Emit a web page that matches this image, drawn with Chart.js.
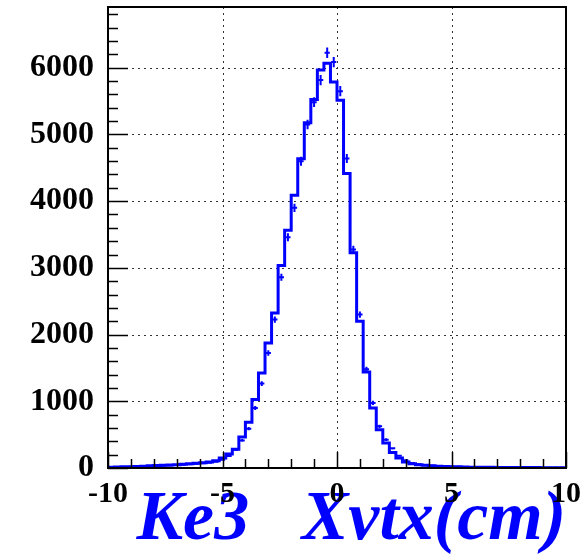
<!DOCTYPE html>
<html>
<head>
<meta charset="utf-8">
<script src="https://cdn.jsdelivr.net/npm/chart.js@4/dist/chart.umd.min.js"></script>
<style>
  html, body { margin: 0; padding: 0; background: #fff; }
  canvas { display: block; }
</style>
</head>
<body>
<canvas id="chart" width="584" height="557"></canvas>
<script>
// binning of the histogram
const xMin = -10
const xMax = 10
const nBins = 70
const yMax = 6910

// step histogram contents, one per bin (left to right)
const mcCounts = [
  12, 14, 17, 20, 24, 28, 32, 36, 40, 45,
  50, 57, 64, 72, 80, 90, 110, 150, 210, 280,
  465, 684, 1025, 1425, 1875, 2325, 3034, 3564, 4089, 4635,
  5175, 5524, 5964, 6065, 5784, 5514, 4414, 3225, 2199, 1440,
  900, 575, 375, 234, 150, 90, 65, 50, 40, 33,
  27, 23, 20, 17, 15, 13, 12, 11, 10, 9,
  8, 8, 7, 7, 6, 6, 5, 5, 5, 5
]

// data points (crosses), one per bin
const dataCounts = [
  10, 12, 14, 17, 20, 24, 27, 31, 35, 39,
  44, 50, 56, 63, 70, 80, 95, 125, 180, 275,
  414, 590, 900, 1265, 1725, 2225, 2859, 3459, 3900, 4599,
  5150, 5484, 5814, 6225, 6084, 5649, 4640, 3274, 2299, 1480,
  975, 624, 425, 295, 185, 115, 75, 55, 42, 35,
  29, 25, 21, 18, 16, 14, 12, 11, 10, 9,
  8, 8, 7, 7, 6, 6, 5, 5, 5, 4
]

const xTickLabels = [-10, -5, 0, 5, 10]
const yTickLabels = [0, 1000, 2000, 3000, 4000, 5000, 6000]
const xMajorStep = 5
const xMinorStep = 1
const yMajorStep = 1000
const yMinorStep = 200
const axisTitle = 'Ke3   Xvtx(cm)'

const serif = '"Liberation Serif", "Times New Roman", serif'
const blue = '#0000ff'

const binWidth = (xMax - xMin) / nBins

// step line goes through the left edge of every bin, plus the right edge of the last one
const stepPoints = mcCounts.map((c, i) => ({ x: xMin + i * binWidth, y: c }))
stepPoints.push({ x: xMax, y: mcCounts[nBins - 1] })

const dataPoints = dataCounts.map((c, i) => ({ x: xMin + (i + 0.5) * binWidth, y: c }))

const rootFrame = {
  id: 'rootFrame',
  beforeDatasetsDraw(chart) {
    const { ctx, chartArea: a, scales: { x, y } } = chart
    ctx.save()
    ctx.strokeStyle = '#333'
    ctx.lineWidth = 1
    ctx.setLineDash([2, 4])
    for (let v = xMin + xMajorStep; v < xMax; v += xMajorStep) {
      const px = Math.round(x.getPixelForValue(v)) + 0.5
      ctx.beginPath()
      ctx.moveTo(px, a.top)
      ctx.lineTo(px, a.bottom)
      ctx.stroke()
    }
    for (let v = yMajorStep; v < yMax; v += yMajorStep) {
      const py = Math.round(y.getPixelForValue(v)) + 0.5
      ctx.beginPath()
      ctx.moveTo(a.left, py)
      ctx.lineTo(a.right, py)
      ctx.stroke()
    }
    ctx.restore()
  },
  afterDatasetsDraw(chart) {
    const { ctx, chartArea: a, scales: { x, y } } = chart

    // error bars on the data points
    ctx.save()
    ctx.strokeStyle = blue
    ctx.lineWidth = 2
    dataPoints.forEach(p => {
      const err = Math.sqrt(p.y)
      const cx = x.getPixelForValue(p.x)
      const cy = y.getPixelForValue(p.y)
      ctx.beginPath()
      ctx.moveTo(x.getPixelForValue(p.x - binWidth * 0.4), cy)
      ctx.lineTo(x.getPixelForValue(p.x + binWidth * 0.4), cy)
      ctx.moveTo(cx, y.getPixelForValue(p.y - err))
      ctx.lineTo(cx, y.getPixelForValue(p.y + err))
      ctx.stroke()
    })
    ctx.restore()

    // inward ticks and frame, ROOT style
    ctx.save()
    ctx.strokeStyle = '#000'
    ctx.lineWidth = 1.5
    ctx.beginPath()
    for (let v = xMin; v <= xMax + 1e-9; v += xMinorStep) {
      const px = Math.round(x.getPixelForValue(v)) + 0.5
      const len = (Math.round(v) % xMajorStep === 0) ? 16 : 9
      ctx.moveTo(px, a.bottom)
      ctx.lineTo(px, a.bottom - len)
    }
    for (let v = 0; v < yMax; v += yMinorStep) {
      const py = Math.round(y.getPixelForValue(v)) + 0.5
      const len = (v % yMajorStep === 0) ? 20 : 10
      ctx.moveTo(a.left, py)
      ctx.lineTo(a.left + len, py)
    }
    ctx.stroke()
    ctx.lineWidth = 2
    ctx.strokeRect(a.left, a.top, a.right - a.left, a.bottom - a.top)
    ctx.restore()
  }
}

new Chart(document.getElementById('chart'), {
  type: 'line',
  data: {
    datasets: [
      {
        label: 'MC',
        data: stepPoints,
        stepped: true,
        borderColor: blue,
        borderWidth: 3,
        pointRadius: 0,
        fill: false
      },
      {
        label: 'Data',
        data: dataPoints,
        showLine: false,
        pointRadius: 0,
        borderColor: blue
      }
    ]
  },
  options: {
    responsive: false,
    animation: false,
    layout: { padding: { top: 7, right: 18, left: 0, bottom: 0 } },
    plugins: {
      legend: { display: false },
      tooltip: { enabled: false }
    },
    scales: {
      x: {
        type: 'linear',
        min: xMin,
        max: xMax,
        grid: { display: false, drawTicks: false },
        border: { display: false },
        afterBuildTicks(scale) { scale.ticks = xTickLabels.map(v => ({ value: v })) },
        ticks: {
          autoSkip: false,
          maxRotation: 0,
          padding: 8,
          color: '#000',
          font: { family: serif, size: 30, weight: 'bold' },
          callback: v => String(v)
        },
        title: {
          display: true,
          text: axisTitle,
          align: 'end',
          color: blue,
          font: { family: serif, size: 70, weight: 'bold', style: 'italic', lineHeight: 1 },
          padding: { top: 0, bottom: 1 }
        },
        afterFit(scale) {
          scale.height = 89
          scale.paddingLeft = 0
          scale.paddingRight = 0
        }
      },
      y: {
        type: 'linear',
        min: 0,
        max: yMax,
        grid: { display: false, drawTicks: false },
        border: { display: false },
        afterBuildTicks(scale) { scale.ticks = yTickLabels.map(v => ({ value: v })) },
        ticks: {
          autoSkip: false,
          padding: 14,
          color: '#000',
          font: { family: serif, size: 32, weight: 'bold' },
          callback: v => String(v)
        },
        afterFit(scale) {
          scale.width = 108
          scale.paddingTop = 0
          scale.paddingBottom = 0
        }
      }
    }
  },
  plugins: [rootFrame]
})
</script>
</body>
</html>
